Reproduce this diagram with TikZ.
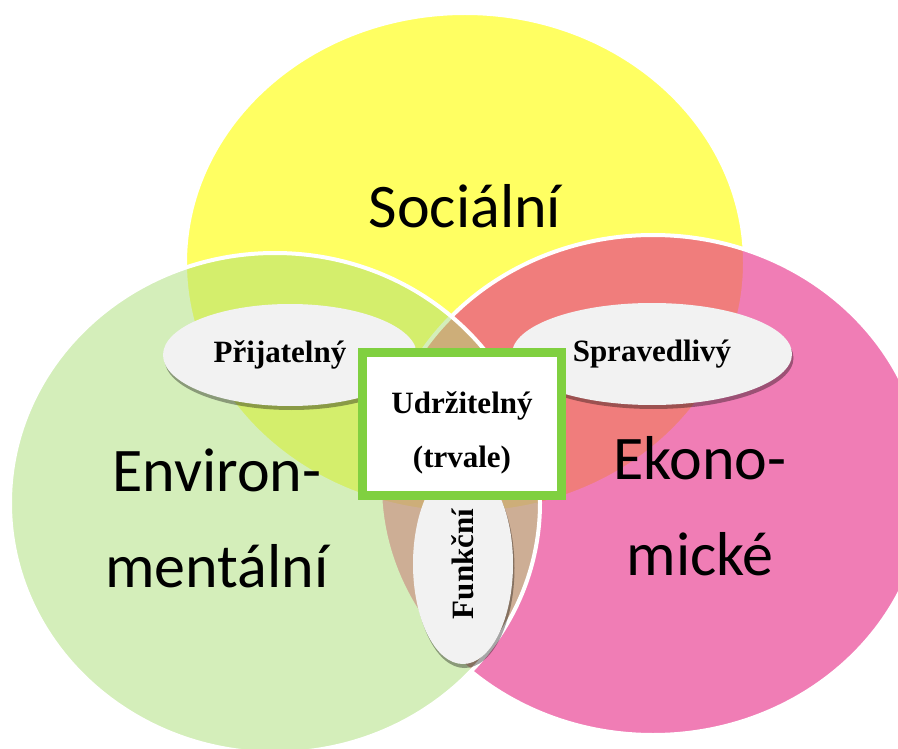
\documentclass[tikz,border=0pt]{standalone}
\usepackage{fontspec}
\setmainfont{Liberation Serif}
\newfontfamily\calibri{Carlito}
\usepackage{xcolor}
\usetikzlibrary{shapes.geometric,shadows,positioning}

\definecolor{socyellow}{HTML}{FFFF62}
\definecolor{ekopink}{HTML}{E8348C}
\definecolor{envgreen}{HTML}{ABDF77}
\definecolor{boxgreen}{HTML}{80D040}
\definecolor{petalgray}{HTML}{F2F2F2}

\tikzset{
  zone/.style={draw=white, line width=4pt},
  bigtext/.style={font=\calibri\fontsize{62}{96}\selectfont, align=center, inner sep=0pt},
  petal/.style={ellipse, fill=petalgray, inner sep=0pt,
    font=\bfseries\fontsize{31}{36}\selectfont,
    drop shadow={shadow xshift=1.5pt, shadow yshift=-4pt, fill=black, opacity=0.35}},
}

\begin{document}
\begin{tikzpicture}[x=1pt,y=-1pt]
    \clip (0,0) rectangle (898,749);
    \fill[white] (0,0) rectangle (898,749);
    % the three zones
    \draw[zone, fill=socyellow] (465,263) ellipse [x radius=280, y radius=250];
    \draw[zone, fill=ekopink, fill opacity=0.64] (653,485) ellipse [x radius=273, y radius=250];
    \draw[zone, fill=envgreen, fill opacity=0.5] (275,503) ellipse [x radius=265, y radius=250];

    \node[bigtext, anchor=base] (social) at (465,228) {Sociální};
    \node[bigtext, anchor=base] (environ) at (217,587) {Environ-\\mentální};
    \node[bigtext, anchor=base] (ekonom) at (700,575) {Ekono-\\mické};

    % overlaps
    \node[petal, minimum width=254pt, minimum height=102pt] (prijat) at (290,355) {\hspace*{-20pt}Přijatelný};
    \node[petal, minimum width=280pt, minimum height=102pt] (spraved) at (652,354) {Spravedlivý};
    \node[petal, rotate=90, minimum width=200pt, minimum height=100pt] (funkc) at (463,564) {Funkční};

    % centre
    \node[draw=boxgreen, line width=8pt, fill=white, minimum width=200pt, minimum height=144pt] (udrz) at (462,424) {};
    \draw[boxgreen, line width=2.5pt] ([shift={(7.5,7.5)}]udrz.north west) rectangle ([shift={(-7.5,-7.5)}]udrz.south east);
    \node[align=center, font=\bfseries\fontsize{31}{54}\selectfont, anchor=base] (udrztext) at (462,467) {Udržitelný\\(trvale)};
\end{tikzpicture}
\end{document}
